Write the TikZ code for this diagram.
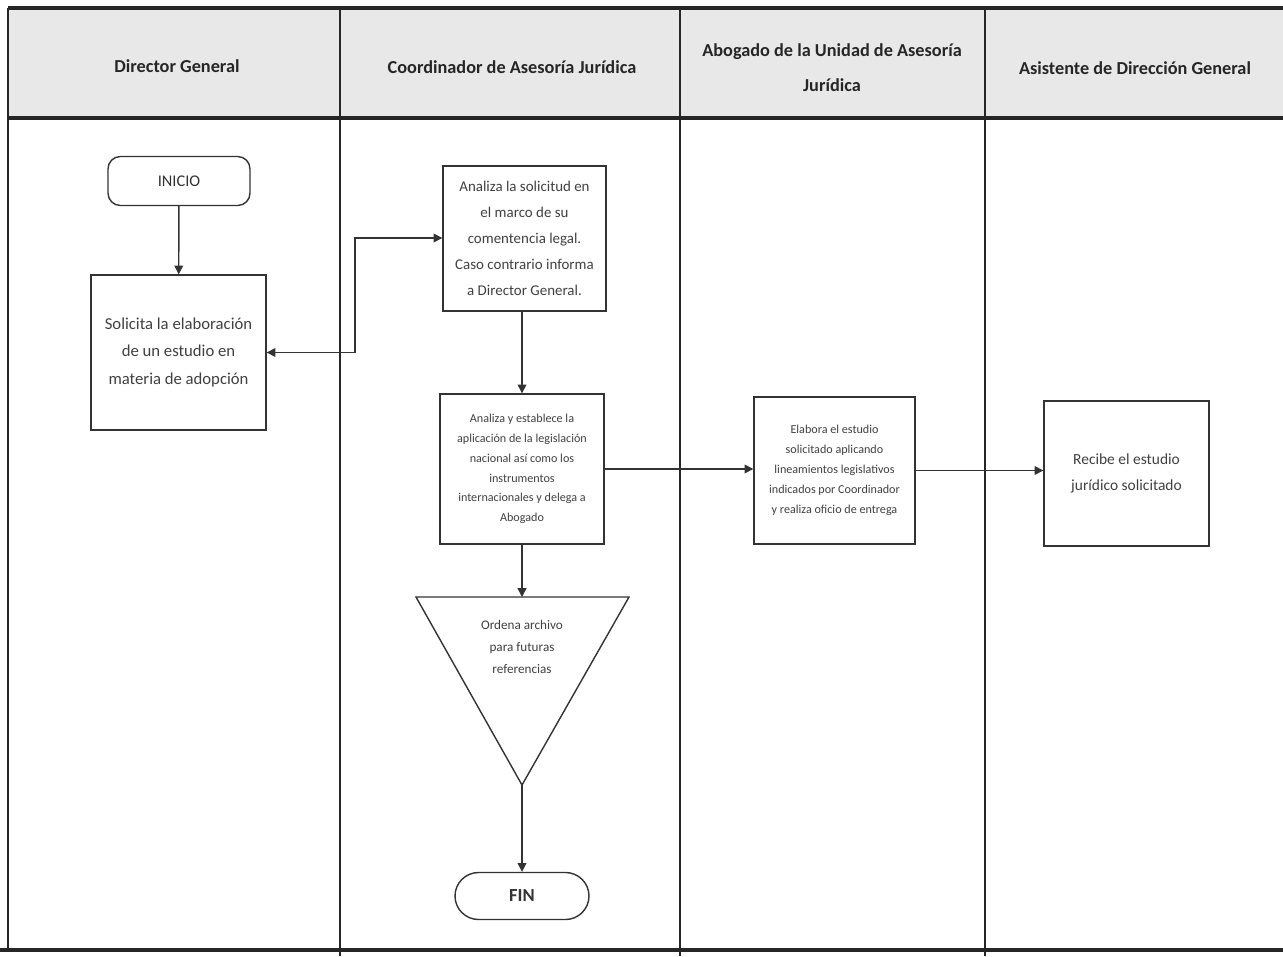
\documentclass[tikz,border=0pt]{standalone}
\usepackage{fontspec}
\setmainfont{Carlito}
\usetikzlibrary{shapes.misc,arrows.meta}
\begin{document}
\begin{tikzpicture}[x=0.02cm,y=-0.02cm,
  lane/.style={draw=black!85,line width=0.9pt},
  heavy/.style={draw=black!85,line width=1.8pt},
  head/.style={font=\bfseries\fontsize{10.4}{14}\selectfont,align=center,text=black!85},
  proc/.style={draw=black!80,line width=0.8pt,align=center,text=black!75,inner sep=0pt},
  term/.style={draw=black!80,line width=0.8pt,rounded corners=7pt,text=black!80,inner sep=0pt},
  pill/.style={draw=black!80,line width=0.8pt,rounded rectangle,text=black!80,inner sep=0pt},
  flow/.style={draw=black!80,line width=0.8pt,-{Triangle[length=5pt,width=5pt]}},
  bigtxt/.style={font=\fontsize{9.5}{15.9}\selectfont},
  midtxt/.style={font=\fontsize{8.5}{14.7}\selectfont},
  smalltxt/.style={font=\fontsize{6.9}{11.3}\selectfont}
]
\useasboundingbox (0,0) rectangle (1283,956);

% header band
\fill[black!9] (8,8) rectangle (1283,118);

% lanes
\draw[lane] (8,8) -- (8,948);
\draw[lane] (340,8) -- (340,956);
\draw[lane] (680,8) -- (680,956);
\draw[lane] (985,8) -- (985,956);
\draw[heavy] (8,8) -- (1283,8);
\draw[heavy] (8,118) -- (1283,118);
\draw[heavy] (0,950) -- (1283,950);

% lane titles
\node[head] (h1) at (177,66) {Director General};
\node[head] (h2) at (512,67) {Coordinador de Asesoría Jurídica};
\node[head] (h3) at (832,67.5) {Abogado de la Unidad de Asesoría\\[6pt]Jurídica};
\node[head] (h4) at (1135,68) {Asistente de Dirección General};

% steps
\node[term,minimum width=2.84cm,minimum height=0.98cm,font=\fontsize{9.3}{10}\selectfont] (inicio) at (179,181) {INICIO};
\node[proc,bigtxt,minimum width=3.5cm,minimum height=3.1cm] (sol) at (178.5,352.5)
  {Solicita la elaboración\\de un estudio en\\materia de adopción};
\node[proc,midtxt,minimum width=3.26cm,minimum height=2.9cm] (an1) at (524.5,238.5)
  {Analiza la solicitud en\\el marco de su\\comentencia legal.\\Caso contrario informa\\a Director General.};
\node[proc,smalltxt,minimum width=3.28cm,minimum height=3.0cm] (an2) at (522,469)
  {Analiza y establece la\\aplicación de la legislación\\nacional así como los\\instrumentos\\internacionales y delega a\\Abogado};
\node[proc,smalltxt,minimum width=3.22cm,minimum height=2.94cm] (ela) at (834.5,470.5)
  {Elabora el estudio\\solicitado aplicando\\lineamientos legislativos\\indicados por Coordinador\\y realiza oficio de entrega};
\node[proc,font=\fontsize{8.8}{15.3}\selectfont,minimum width=3.3cm,minimum height=2.9cm] (rec) at (1126.5,473.5)
  {Recibe el estudio\\jurídico solicitado};

% archive (inverted triangle)
\coordinate (trl) at (416,597);
\coordinate (trr) at (629,597);
\coordinate (tri) at (522,597);
\coordinate (apex) at (522,785);
\draw[draw=black!80,line width=0.8pt] (trl) -- (trr) -- (apex) -- cycle;
\node[align=center,text=black!75,font=\fontsize{7.5}{12.6}\selectfont] (arch) at (522,647)
  {Ordena archivo\\para futuras\\referencias};

\node[pill,minimum width=2.68cm,minimum height=0.94cm,font=\bfseries\fontsize{10.5}{12}\selectfont] (fin) at (522,896) {FIN};

% connectors
\draw[flow] (inicio) -- (sol);
\coordinate (elb) at (355,238);
\draw[flow,{Triangle[length=5pt,width=5pt]}-{Triangle[length=5pt,width=5pt]}]
  (sol.east) -| (elb) -- (elb -| an1.west);
\draw[flow] (an1.south -| an2.north) -- (an2.north);
\draw[flow] (an2.south) -- (tri);
\draw[flow] (apex) -- (fin.north);
\draw[flow] (an2.east) -- (an2.east -| ela.west);
\draw[flow] (ela.east) -- (ela.east -| rec.west);
\end{tikzpicture}
\end{document}
